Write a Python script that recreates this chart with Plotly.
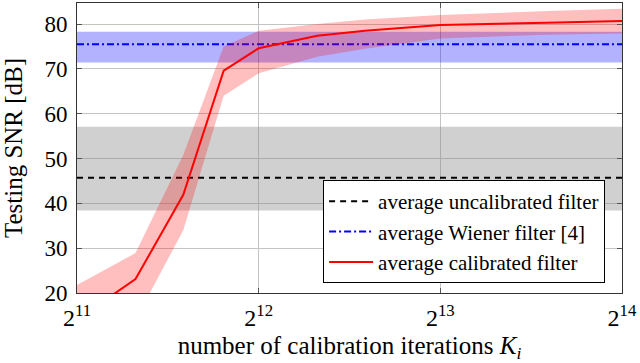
import math
import plotly.graph_objects as go

# ---- data ----
iterations = [2048, 2560, 3072, 3584, 4096, 4608, 5120, 6144, 8192, 12288, 16384]
calibrated_mean = [14.1, 23.1, 41.9, 69.6, 74.6, 76.0, 77.4, 78.5, 79.8, 80.3, 80.7]
calibrated_upper = [21.8, 28.9, 50.8, 75.0, 78.5, 79.3, 80.0, 81.0, 82.0, 82.9, 83.4]
calibrated_lower = [8.0, 14.0, 34.0, 64.0, 69.0, 71.0, 72.7, 74.5, 76.8, 77.6, 77.9]

x_span = [2048, 16384]
uncal_mean = 45.7
uncal_lower = 38.4
uncal_upper = 57.1
wiener_mean = 75.5
wiener_lower = 71.4
wiener_upper = 78.3

x_tickvals = [2048, 4096, 8192, 16384]
x_ticktext = ["2<sup>11</sup>", "2<sup>12</sup>", "2<sup>13</sup>", "2<sup>14</sup>"]
y_tickvals = [20, 30, 40, 50, 60, 70, 80]

FONT = "Liberation Serif, Times New Roman, Times, DejaVu Serif, serif"

fig = go.Figure()

# uncalibrated band + line
fig.add_trace(go.Scatter(x=x_span, y=[uncal_lower] * 2, mode="lines",
                         line=dict(width=0), showlegend=False, hoverinfo="skip"))
fig.add_trace(go.Scatter(x=x_span, y=[uncal_upper] * 2, mode="lines", fill="tonexty",
                         fillcolor="rgba(128,128,128,0.37)", line=dict(width=0),
                         showlegend=False, hoverinfo="skip"))
fig.add_trace(go.Scatter(x=x_span, y=[uncal_mean] * 2, mode="lines",
                         line=dict(color="black", width=2, dash="6px,5px"),
                         name="average uncalibrated filter"))

# Wiener band + line
fig.add_trace(go.Scatter(x=x_span, y=[wiener_lower] * 2, mode="lines",
                         line=dict(width=0), showlegend=False, hoverinfo="skip"))
fig.add_trace(go.Scatter(x=x_span, y=[wiener_upper] * 2, mode="lines", fill="tonexty",
                         fillcolor="rgba(0,0,255,0.30)", line=dict(width=0),
                         showlegend=False, hoverinfo="skip"))
fig.add_trace(go.Scatter(x=x_span, y=[wiener_mean] * 2, mode="lines",
                         line=dict(color="blue", width=2, dash="7px,3px,2px,3px"),
                         name="average Wiener filter [4]"))

# calibrated band + line
fig.add_trace(go.Scatter(x=iterations, y=calibrated_lower, mode="lines",
                         line=dict(width=0), showlegend=False, hoverinfo="skip"))
fig.add_trace(go.Scatter(x=iterations, y=calibrated_upper, mode="lines", fill="tonexty",
                         fillcolor="rgba(255,0,0,0.25)", line=dict(width=0),
                         showlegend=False, hoverinfo="skip"))
fig.add_trace(go.Scatter(x=iterations, y=calibrated_mean, mode="lines",
                         line=dict(color="red", width=2),
                         name="average calibrated filter"))

axis_common = dict(
    showline=True, linecolor="#333333", linewidth=1, mirror="allticks",
    ticks="inside", ticklen=5, tickcolor="#555555", tickwidth=1,
    showgrid=True, gridcolor="#c4c4c4", gridwidth=1, zeroline=False,
)

fig.update_xaxes(
    type="log",
    range=[math.log10(2048), math.log10(16384)],
    tickvals=x_tickvals, ticktext=x_ticktext,
    tickfont=dict(family=FONT, size=24, color="black"),
    ticklabelstandoff=3,
    title=dict(text="number of calibration iterations <i>K</i><sub><i>i</i></sub>",
               font=dict(family=FONT, size=25, color="black"), standoff=10),
    automargin=False,
    **axis_common,
)
fig.update_yaxes(
    range=[20, 84.7],
    tickvals=y_tickvals,
    tickfont=dict(family=FONT, size=23, color="black"),
    title=dict(text="Testing SNR [dB]", font=dict(family=FONT, size=25, color="black"),
               standoff=14),
    ticklabelstandoff=4,
    automargin=False,
    **axis_common,
)

fig.update_layout(
    width=640, height=363,
    margin=dict(l=77, r=18, t=3, b=70),
    plot_bgcolor="white", paper_bgcolor="white",
    font=dict(family=FONT, color="black"),
    legend=dict(
        x=0.969, y=0.034, xanchor="right", yanchor="bottom",
        bgcolor="white", bordercolor="black", borderwidth=1,
        font=dict(family=FONT, size=21, color="black"),
        tracegroupgap=0, itemwidth=44, traceorder="normal",
    ),
    showlegend=True,
)

fig.write_html("out.html", config={"displayModeBar": False},
               post_script="document.body.style.margin='0px';")
